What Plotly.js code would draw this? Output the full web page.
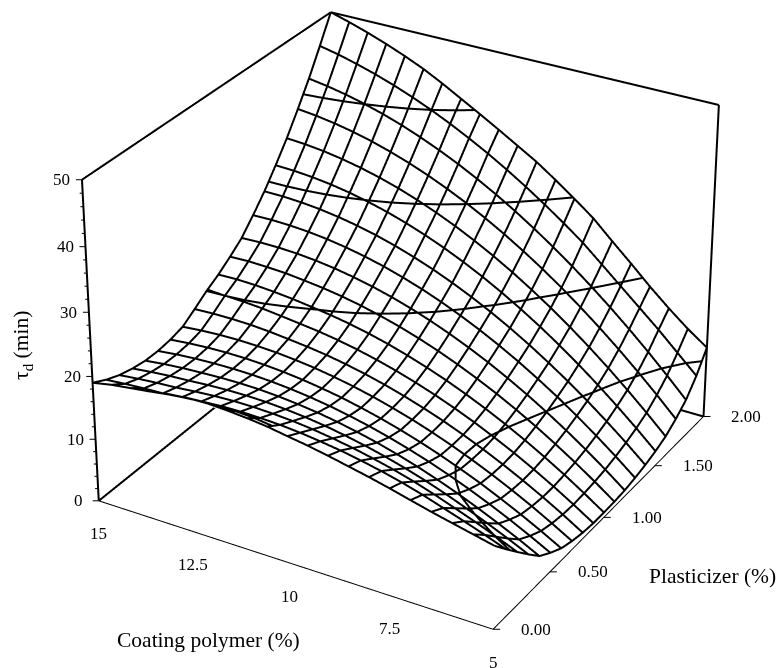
<!DOCTYPE html>
<html><head><meta charset="utf-8">
<script src="https://cdn.plot.ly/plotly-3.0.1.min.js"></script>
<style>html,body{margin:0;padding:0;background:#fff;overflow:hidden;width:777px;height:668px}
#p{position:absolute;left:0;top:-1085px;width:815px;height:2780px}</style></head>
<body><div id="p"></div>
<script>
const coatingPolymer=[15,14.5,14,13.5,13,12.5,12,11.5,11,10.5,10,9.5,9,8.5,8,7.5,7,6.5,6,5.5,5];
const plasticizer=[0,0.1,0.2,0.3,0.4,0.5,0.6,0.7,0.8,0.9,1,1.1,1.2,1.3,1.4,1.5,1.6,1.7,1.8,1.9,2];
const tauD=[
[19,19.6,20,20.4,20.9,21.2,21.3,21.13,20.88,20.53,20,19.5,18.9,18.23,17.55,16.8,15.98,15.18,14.45,13.73,13],
[17.9,18.17,18.37,18.5,18.83,19.09,19.29,19.36,19.3,19.17,18.9,18.51,18.05,17.46,16.8,16.01,15.1,14.05,13,11.89,10.7],
[17.06,17.39,17.65,17.83,18.12,18.34,18.47,18.47,18.35,18.14,17.8,17.33,16.78,16.11,15.35,14.46,13.43,12.28,11.11,9.84,8.5],
[16.55,16.9,17.17,17.34,17.56,17.69,17.73,17.65,17.44,17.13,16.7,16.14,15.5,14.73,13.86,12.87,11.76,10.52,9.22,7.83,6.35],
[16.24,16.6,16.86,17.02,17.15,17.19,17.13,16.94,16.63,16.23,15.7,15.05,14.31,13.44,12.47,11.37,10.17,8.84,7.42,5.92,4.3],
[16.25,16.59,16.82,16.95,17,16.95,16.79,16.52,16.14,15.65,15.05,14.34,13.52,12.59,11.56,10.41,9.15,7.78,6.31,4.73,3.05],
[16.54,16.84,17.04,17.13,17.11,16.98,16.74,16.39,15.93,15.38,14.7,13.92,13.03,12.03,10.92,9.7,8.39,6.93,5.4,3.76,2],
[17.1,17.38,17.55,17.61,17.54,17.38,17.09,16.71,16.2,15.58,14.85,14,13.06,11.99,10.81,9.52,8.12,6.61,4.99,3.24,1.4],
[18.46,18.6,18.62,18.54,18.33,18.01,17.67,17.23,16.67,15.99,15.2,14.29,13.27,12.15,10.89,9.53,8.05,6.46,4.76,2.94,1],
[19.9,20.01,19.89,19.67,19.32,18.95,18.57,18.07,17.44,16.71,15.85,14.87,13.78,12.57,11.25,9.79,8.24,6.55,4.75,2.83,0.8],
[21.1,21.18,21.08,20.86,20.56,20.15,19.71,19.16,18.48,17.68,16.75,15.7,14.54,13.24,11.83,10.29,8.64,6.86,4.97,2.94,0.8],
[22.55,22.65,22.56,22.4,22.07,21.7,21.21,20.58,19.83,18.96,17.95,16.82,15.55,14.16,12.65,11,9.23,7.32,5.29,3.14,0.85],
[24.16,24.28,24.26,24.12,23.83,23.41,22.85,22.17,21.35,20.39,19.3,18.07,16.71,15.23,13.59,11.83,9.93,7.9,5.74,3.44,1],
[26.45,26.51,26.42,26.21,25.85,25.35,24.72,23.95,23.03,21.99,20.8,19.47,18.01,16.41,14.68,12.79,10.79,8.63,6.34,3.91,1.35],
[28.94,28.92,28.76,28.46,28.01,27.43,26.71,25.84,24.83,23.69,22.4,20.97,19.41,17.7,15.85,13.85,11.73,9.46,7.04,4.5,1.8],
[31.8,31.7,31.45,31.06,30.53,29.85,29.03,28.06,26.95,25.7,24.3,22.76,21.07,19.24,17.27,15.15,12.89,10.48,7.93,5.24,2.4],
[34.84,34.64,34.3,33.8,33.17,32.39,31.47,30.39,29.17,27.81,26.3,24.65,22.85,20.89,18.81,16.57,14.19,11.66,8.98,6.16,3.2],
[38.25,37.92,37.44,36.83,36.07,35.16,34.12,32.93,31.59,30.12,28.5,26.74,24.83,22.79,20.6,18.26,15.79,13.17,10.4,7.5,4.45],
[41.86,41.39,40.78,40.03,39.15,38.13,36.95,35.65,34.21,32.62,30.9,29.04,27.03,24.89,22.61,20.19,17.63,14.93,12.1,9.11,6],
[45.85,45.2,44.4,43.49,42.45,41.28,39.98,38.55,36.99,35.32,33.5,31.56,29.49,27.29,24.98,22.3,19.6,16.9,14.2,11.3,8.4],
[50,49.13,48.15,47.06,45.85,44.52,42.95,41.25,39.55,37.8,36,34.19,32.07,29.84,27.49,24.6,21.8,18.9,16.2,13.7,11.5]];
const zLevels=[10,20,30,40];
const zMajor=[0,10,20,30,40,50];
const zMinor=[2,4,6,8,12,14,16,18,22,24,26,28,32,34,36,38,42,44,46,48];
const xTicks=[15,12.5,10,7.5,5];
const xTickText=['15','12.5','10','7.5','5'];
const yTicks=[0,0.5,1,1.5,2];
const yTickText=['0.00','0.50','1.00','1.50','2.00'];
const tickFont={family:'Liberation Serif',size:17,color:'#000'};
const titleFont={family:'Liberation Serif',size:21.5,color:'#000'};
const W=815,H=2780,T=-1085;
function ax(r){return {range:r,showgrid:false,zeroline:false,showbackground:false,showspikes:false,showline:false,ticks:'',showticklabels:false,title:{text:''},autorange:false};}
function edge(xs,ys,zs,w){return {type:'scatter3d',mode:'lines',x:xs,y:ys,z:zs,line:{color:'#000',width:w},showlegend:false,hoverinfo:'skip'};}
const gx=[],gy=[],gz=[];
plasticizer.forEach((y,j)=>{coatingPolymer.forEach((x,i)=>{gx.push(x);gy.push(y);gz.push(tauD[j][i]);});gx.push(NaN);gy.push(NaN);gz.push(NaN);});
coatingPolymer.forEach((x,i)=>{plasticizer.forEach((y,j)=>{gx.push(x);gy.push(y);gz.push(tauD[j][i]);});gx.push(NaN);gy.push(NaN);gz.push(NaN);});
const cx=[],cy=[],cz=[];
zLevels.forEach(l=>{for(let j=0;j<plasticizer.length-1;j++)for(let i=0;i<coatingPolymer.length-1;i++){
 const c=[[i,j],[i+1,j],[i+1,j+1],[i,j+1]],pts=[];
 for(let k=0;k<4;k++){const a=c[k],b=c[(k+1)%4],za=tauD[a[1]][a[0]],zb=tauD[b[1]][b[0]];
  if((za-l)*(zb-l)<0){const t=(l-za)/(zb-za);pts.push([coatingPolymer[a[0]]+t*(coatingPolymer[b[0]]-coatingPolymer[a[0]]),plasticizer[a[1]]+t*(plasticizer[b[1]]-plasticizer[a[1]])]);}}
 if(pts.length>=2){cx.push(pts[0][0],pts[1][0],NaN);cy.push(pts[0][1],pts[1][1],NaN);cz.push(l,l,NaN);}
}});
const sunk=tauD.map(r=>r.map(v=>v-0.3));
const data=[{type:'surface',x:coatingPolymer,y:plasticizer,z:sunk,surfacecolor:tauD,showscale:false,
 colorscale:[[0,'#fff'],[1,'#fff']],hoverinfo:'skip',
 lighting:{ambient:1,diffuse:0,specular:0,roughness:1,fresnel:0}},
 {type:'scatter3d',mode:'lines',x:gx,y:gy,z:gz,line:{color:'#000',width:4},hoverinfo:'skip',connectgaps:false},
 {type:'scatter3d',mode:'lines',x:cx,y:cy,z:cz,line:{color:'#000',width:4},hoverinfo:'skip',connectgaps:false},
 edge([15,15],[0,2],[0,0],4),edge([15,15],[0,0],[0,50],4),edge([15,15],[0,2],[50,50],4),
 edge([15,5],[2,2],[50,50],4),edge([5,5],[2,2],[50,0],4),edge([15,5],[2,2],[0,0],4),edge([15,5],[0,0],[0,0],2),edge([5,5],[0,2],[0,0],2)];
function ann(t,px,py,a){return {text:t,xref:'paper',yref:'paper',xanchor:'center',yanchor:'middle',x:px/W,y:1-(py-T)/H,showarrow:false,font:titleFont,textangle:a||0};}
const sa=[];
function tick(x,y,z,ax_,ay_){sa.push({x,y,z,showarrow:true,arrowhead:0,arrowwidth:1,arrowcolor:'#000',ax:ax_,ay:ay_,standoff:0,startstandoff:0});}
function lab(x,y,z,t,xs,ys){sa.push({x,y,z,text:t,showarrow:false,font:tickFont,xshift:xs,yshift:ys});}
zMajor.forEach(z=>{tick(15,0,z,-9,0);lab(15,0,z,String(z),-20,0);});
zMinor.forEach(z=>tick(15,0,z,-6,0));
xTicks.forEach((x,i)=>{tick(x,0,0,0,10);lab(x,0,0,xTickText[i],0,-33);});
yTicks.forEach((y,i)=>{tick(5,y,0,10,0);lab(5,y,0,yTickText[i],43,0);});
const layout={width:W,height:H,margin:{l:0,r:0,t:0,b:0},paper_bgcolor:'#fff',showlegend:false,
 scene:{domain:{x:[0,1],y:[0,1]},aspectmode:'manual',aspectratio:{x:0.976,y:0.982,z:0.784},
 camera:{eye:{x:3.18,y:-5.46,z:3.475},center:{x:0,y:0,z:0},up:{x:0,y:0,z:1}},
 xaxis:ax([15.02,4.98]),yaxis:ax([-0.004,2.004]),zaxis:ax([-0.5,50.1]),annotations:sa},
 annotations:[ann('Coating polymer (%)',208,640),ann('Plasticizer (%)',712,576),ann('τ<sub>d</sub> (min)',22,346,-90)]};
Plotly.newPlot('p',data,layout,{displayModeBar:false});
</script></body></html>
